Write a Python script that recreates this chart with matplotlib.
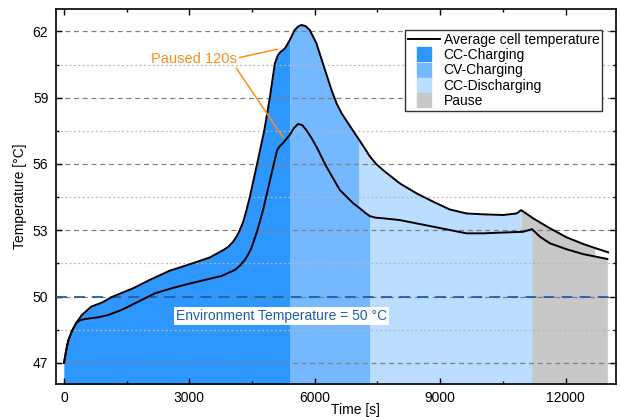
import matplotlib
matplotlib.use("Agg")
import matplotlib.pyplot as plt
from matplotlib.lines import Line2D
from matplotlib.ticker import MultipleLocator, FixedLocator
import numpy as np

plt.rcParams["font.family"] = ["Liberation Sans", "DejaVu Sans"]
plt.rcParams["font.size"] = 10

# upper curve (hottest point)
time_max = [0, 50, 100, 180, 290, 420, 650, 900, 1170, 1650, 2050, 2530, 3010,
            3490, 3810, 3930, 4045, 4130, 4205, 4290, 4365, 4445, 4620, 4790,
            4925, 5045, 5120, 5180, 5240, 5300, 5400, 5520, 5600, 5680, 5780,
            5880, 6040, 6160, 6280, 6400, 6520, 6640, 6760, 6900, 7060, 7190,
            7315, 7470, 7635, 8035, 8435, 8835, 9230, 9630, 10030, 10510, 10830,
            10940, 11225, 11625, 12025, 12420, 12700, 13020]
temp_max = [47.0, 47.55, 48.0, 48.4, 48.8, 49.15, 49.54, 49.72, 50.0, 50.37,
            50.75, 51.17, 51.46, 51.77, 52.1, 52.25, 52.48, 52.72, 53.0, 53.4,
            53.9, 54.5, 56.0, 57.5, 59.0, 60.55, 60.93, 61.07, 61.15, 61.27, 61.6,
            62.06, 62.22, 62.29, 62.24, 62.06, 61.46, 60.75, 60.05, 59.35, 58.75,
            58.3, 57.95, 57.55, 57.1, 56.72, 56.35, 56.0, 55.72, 55.12, 54.67,
            54.29, 53.94, 53.76, 53.72, 53.69, 53.76, 53.91, 53.54, 53.09, 52.68,
            52.38, 52.2, 52.0]

# average cell temperature (lower curve)
time_avg = [0, 50, 100, 180, 290, 380, 495, 815, 1055, 1375, 1770, 2170, 2570,
            2970, 3370, 3770, 4085, 4200, 4325, 4400, 4485, 4620, 4763, 5003,
            5100, 5160, 5243, 5400, 5500, 5600, 5700, 5800, 5920, 6040, 6280,
            6600, 6920, 7080, 7200, 7315, 7450, 7635, 8035, 8435, 8835, 9230,
            9630, 10030, 10430, 10985, 11200, 11385, 11625, 12025, 12420, 13000]
temp_avg = [47.0, 47.55, 48.0, 48.4, 48.8, 48.92, 48.98, 49.06, 49.16, 49.39,
            49.76, 50.14, 50.37, 50.57, 50.75, 50.93, 51.2, 51.38, 51.65, 51.88,
            52.2, 52.95, 53.91, 55.87, 56.63, 56.8, 56.95, 57.31, 57.62, 57.81,
            57.76, 57.53, 57.18, 56.78, 55.87, 54.82, 54.22, 53.99, 53.8, 53.64,
            53.57, 53.54, 53.46, 53.31, 53.16, 53.01, 52.86, 52.86, 52.89, 52.93,
            53.05, 52.71, 52.41, 52.14, 51.92, 51.7]

phase_names = ["CC-Charging", "CV-Charging", "CC-Discharging", "Pause"]
phase_colors = ["#2E96FF", "#74B8FF", "#BBDDFF", "#C8C8C8"]
bounds_max = [0, 5400, 7060, 10940, 12700]
bounds_avg = [0, 5400, 7315, 11200, 13000]

env_temp = 50
env_color = "#1F5FAA"
orange = "#FF8C1A"

fig, ax = plt.subplots(figsize=(6.2, 4.17), dpi=100)
fig.subplots_adjust(left=0.0898, right=0.993, bottom=0.0791, top=0.9777)


def fill_phases(t, T, bounds):
    t = np.array(t)
    T = np.array(T)
    for i, c in enumerate(phase_colors):
        m = (t >= bounds[i]) & (t <= bounds[i + 1])
        ax.fill_between(t[m], 46, T[m], color=c, lw=0, zorder=1)


fill_phases(time_max, temp_max, bounds_max)
fill_phases(time_avg, temp_avg, bounds_avg)

ax.plot(time_max, temp_max, color="black", lw=1.4, zorder=3)
ax.plot(time_avg, temp_avg, color="black", lw=1.4, zorder=3)

ax.axhline(env_temp, color=env_color, ls=(0, (6, 4)), lw=1.3, zorder=2.6)
ax.text(5210, 49.1, "Environment Temperature = 50 °C", color=env_color,
        ha="center", va="center", zorder=4,
        bbox=dict(boxstyle="square,pad=0.15", fc="white", ec="none"))

# paused annotation
ax.text(3117, 60.75, "Paused 120s", color=orange, ha="center", va="center",
        fontsize=10.5, zorder=4)
ax.plot([4205, 5098], [60.82, 61.19], color=orange, lw=1.1, zorder=4)
ax.plot([4126, 5242], [60.33, 57.2], color=orange, lw=1.1, zorder=4)

ax.set_xlim(-200, 13200)
ax.set_ylim(46.04, 63.0)
ax.xaxis.set_major_locator(MultipleLocator(3000))
ax.xaxis.set_minor_locator(MultipleLocator(1500))
ax.set_yticks([47, 50, 53, 56, 59, 62])
ax.yaxis.set_minor_locator(FixedLocator([48.5, 51.5, 54.5, 57.5, 60.5]))

ax.set_axisbelow(False)
ax.yaxis.grid(True, which="major", ls=(0, (4, 3)), color="#808080", lw=0.9)
ax.yaxis.grid(True, which="minor", ls=(0, (1.5, 2)), color="#b8b8b8", lw=0.9)

ax.tick_params(which="both", direction="in", top=True, right=True, width=1)
ax.tick_params(which="major", length=4)
ax.tick_params(which="minor", length=2.5)
ax.tick_params(axis="y", pad=5.3)
ax.tick_params(axis="x", pad=5)
for s in ax.spines.values():
    s.set_linewidth(1.2)

ax.set_xlabel("Time [s]")
ax.xaxis.set_label_coords(0.536, -0.05)
ax.set_ylabel("Temperature [°C]")

handles = [Line2D([], [], color="black", lw=1.4)]
for c in phase_colors:
    handles.append(Line2D([], [], marker="s", ls="none", markersize=10,
                          markerfacecolor=c, markeredgecolor=c))
labels = ["Average cell temperature"] + phase_names
leg = ax.legend(handles, labels, loc="upper right", bbox_to_anchor=(0.976, 0.945),
                borderaxespad=0, fancybox=False, edgecolor="#333333", framealpha=1,
                handlelength=2.3, labelspacing=0.1, handletextpad=0.25,
                borderpad=0.2)
leg.get_frame().set_linewidth(1.0)
leg.set_zorder(5)

fig.savefig("out.png", dpi=100)
